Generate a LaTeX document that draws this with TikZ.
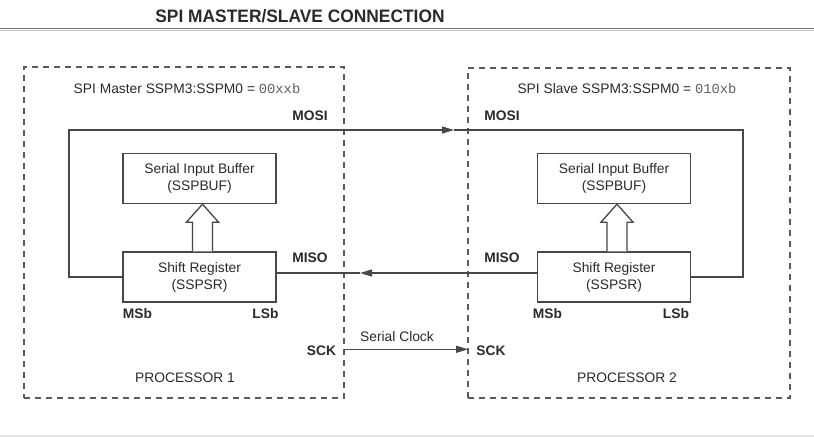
\documentclass[tikz,border=0pt]{standalone}
\usepackage{fontspec}
\setmainfont{Liberation Sans}
\setmonofont{Liberation Mono}
\usetikzlibrary{arrows.meta,calc}
\definecolor{ln}{HTML}{474747}
\definecolor{tx}{HTML}{2A2A2A}
\definecolor{dsh}{HTML}{5A5A5A}
\begin{document}
\begin{tikzpicture}[x=1pt,y=-1pt,
  wire/.style={draw=ln,line width=1.3pt},
  blk/.style={draw=ln,line width=1.3pt,fill=white,minimum width=153pt,minimum height=50pt,
    align=center,font=\fontsize{13.8}{17}\selectfont,text=tx,inner sep=0pt},
  proc/.style={draw=dsh,line width=1.1pt,dash pattern=on 6pt off 5pt,inner sep=0pt},
  lbl/.style={font=\fontsize{13.8}{16}\selectfont,text=tx,inner sep=0pt,anchor=base},
  blbl/.style={lbl,font=\bfseries\fontsize{13.8}{16}\selectfont},
  tip/.style={-{Triangle[length=12pt,width=7pt]}},
  hollow/.style={draw=ln,line width=1.3pt,fill=white,line join=miter}
]
\fill[white] (0,0) rectangle (814,437);
\useasboundingbox (0,0) rectangle (814,437);

% title
\node[inner sep=0pt,anchor=base,text=tx,font=\bfseries\fontsize{18}{20}\selectfont] (title) at (300,22)
  {\scalebox{0.965}[1]{SPI MASTER/SLAVE CONNECTION}};
\draw[draw=gray!90!black,line width=1.6pt] (0,28.5) -- (814,28.5);
\draw[draw=gray!45,line width=0.8pt] (0,30.5) -- (814,30.5);
\draw[draw=gray!20,line width=1.5pt] (0,436) -- (814,436);

% processor boxes
\node[proc,minimum width=320pt,minimum height=331pt] (p1) at (184,232.5) {};
\node[proc,minimum width=322pt,minimum height=330pt] (p2) at (629,233) {};

% headers
\node[lbl] (h1) at (187,93) {SPI Master SSPM3:SSPM0 = {\ttfamily\color{tx!75}00xxb}};
\node[lbl] (h2) at (627,93) {SPI Slave SSPM3:SSPM0 = {\ttfamily\color{tx!75}010xb}};

% blocks
\node[blk] (mbuf) at (199.5,178.5) {Serial Input Buffer\\(SSPBUF)};
\node[blk] (msr) at (199.5,277) {Shift Register\\(SSPSR)};
\node[blk] (sbuf) at (614,178.5) {Serial Input Buffer\\(SSPBUF)};
\node[blk] (ssr) at (614,277) {Shift Register\\(SSPSR)};

% hollow arrows
\draw[hollow] let \p1=($(msr.north)+(3pt,0)$), \p2=($(mbuf.south)+(3pt,0)$) in
  (\x1-10pt,\y1) -- (\x1-10pt,\y2-18pt) -- (\x1-16pt,\y2-18pt) -- (\x2,\y2)
  -- (\x1+16pt,\y2-18pt) -- (\x1+10pt,\y2-18pt) -- (\x1+10pt,\y1);
\draw[hollow] let \p1=($(ssr.north)+(3pt,0)$), \p2=($(sbuf.south)+(3pt,0)$) in
  (\x1-10pt,\y1) -- (\x1-10pt,\y2-18pt) -- (\x1-16pt,\y2-18pt) -- (\x2,\y2)
  -- (\x1+16pt,\y2-18pt) -- (\x1+10pt,\y2-18pt) -- (\x1+10pt,\y1);

% MOSI
\coordinate (mosiL) at (69,130);
\coordinate (mosiTip) at (454,130);
\coordinate (mosiR) at (743,130);
\draw[wire,tip] (msr.west) -| (mosiL) -- (mosiTip);
\draw[wire] (mosiTip) -- (mosiR) |- (ssr.east);
\node[blbl] (mosi1) at (310,120) {MOSI};
\node[blbl] (mosi2) at (502,120) {MOSI};

% MISO
\coordinate (misoTip) at (360,273);
\draw[wire,tip] ([yshift=4pt]ssr.west) -- (misoTip);
\draw[wire] (misoTip) -- ([yshift=4pt]msr.east);
\node[blbl] (miso1) at (310,262) {MISO};
\node[blbl] (miso2) at (502,262) {MISO};

% MSb / LSb
\node[blbl] (msb1) at (137.5,318) {MSb};
\node[blbl] (lsb1) at (265.5,318) {LSb};
\node[blbl] (msb2) at (547.5,318) {MSb};
\node[blbl] (lsb2) at (676,318) {LSb};

% SCK
\coordinate (sckA) at (344,349.3);
\coordinate (sckB) at (468,349.3);
\draw[wire,tip] (sckA) -- (sckB);
\node[blbl] (sck1) at (321.5,355.5) {SCK};
\node[blbl] (sck2) at (491,355.5) {SCK};
\node[lbl] (sclk) at (397,341.7) {Serial Clock};

% processor labels
\node[lbl] (pr1) at (185,382.5) {PROCESSOR 1};
\node[lbl] (pr2) at (627,382.5) {PROCESSOR 2};
\end{tikzpicture}
\end{document}
